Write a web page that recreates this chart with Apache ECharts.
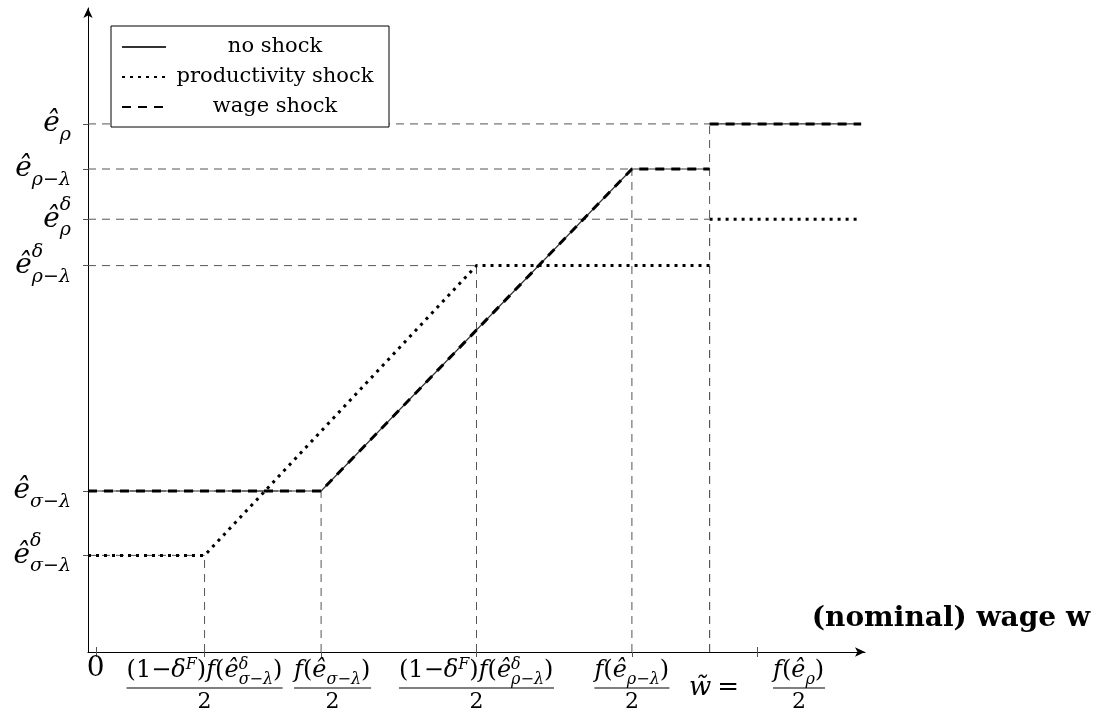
<!DOCTYPE html>
<html>
<head>
<meta charset="utf-8">
<title>Employment under shocks</title>
<script src="https://cdn.jsdelivr.net/npm/echarts@6/dist/echarts.min.js"></script>
<style>
  html, body { margin: 0; padding: 0; background: #fff; }
  #chart { width: 1100px; height: 715px; }
</style>
</head>
<body>
<div id="chart"></div>
<script>
// ---- values (arbitrary units, axes run 0..10) ----
const yLevels   = [1.5, 2.5, 6.0, 6.72, 7.5, 8.2];
const yLabelSup = ['δ', '', 'δ', 'δ', '', ''];
const yLabelSub = ['σ−λ', 'σ−λ', 'ρ−λ', 'ρ', 'ρ−λ', 'ρ'];

const xTickValues = [0.1, 1.5, 3, 5, 7, 8.61];
// label pieces as [style, text] runs
const xLabelLead = [
  [['big0', '0']], null, null, null, null,
  [['bigi', 'w\u0303'], ['gap1', ' '], ['big', '='], ['gapw', ' ']]
];
const xLabelNum = [
  null,
  [['n', '(1−'], ['ni', 'δ'], ['nsup', 'F'], ['n', ')'], ['ni', 'f'], ['n', '('], ['ni', 'ê'], ['nsupS', 'δ'], ['nsub', 'σ−λ'], ['n', ')']],
  [['ni', 'f'], ['n', '('], ['ni', 'ê'], ['nsub', 'σ−λ'], ['n', ')']],
  [['n', '(1−'], ['ni', 'δ'], ['nsup', 'F'], ['n', ')'], ['ni', 'f'], ['n', '('], ['ni', 'ê'], ['nsupS', 'δ'], ['nsub', 'ρ−λ'], ['n', ')']],
  [['ni', 'f'], ['n', '('], ['ni', 'ê'], ['nsub', 'ρ−λ'], ['n', ')']],
  [['ni', 'f'], ['n', '('], ['ni', 'ê'], ['nsub', 'ρ'], ['n', ')']]
];
const xLabelDen = ['', '2', '2', '2', '2', '2'];

const noShock           = [[0, 2.5], [3, 2.5], [7, 7.5], [8, 7.5], [8, '-'], [8, 8.2], [9.95, 8.2]];
const productivityShock = [[0, 1.5], [1.5, 1.5], [5, 6.0], [8, 6.0], [8, '-'], [8, 6.72], [9.95, 6.72]];
const wageShock         = [[0, 2.5], [3, 2.5], [7, 7.5], [8, 7.5], [8, '-'], [8, 8.2], [9.95, 8.2]];

// corners that get thin dashed lines to both axes
const guideCorners = [[1.5, 1.5], [3, 2.5], [5, 6.0], [7, 7.5], [8, 8.2], [8, 6.72]];

// ---- styling ----
const FONT = '"DejaVu Serif", serif';
const INK = '#000';
const GUIDE = '#555';

function st(size, italic, extra) {
  return Object.assign({
    fontFamily: FONT, fontSize: size, fontStyle: italic ? 'italic' : 'normal',
    color: INK, align: 'left'
  }, extra || {});
}

const rich = {
  ye:    st(28, true, { lineHeight: 46 }),
  ysupS: st(19, true, { verticalAlign: 'top', height: 18, width: 0 }),
  ysub:  st(19, true, { verticalAlign: 'bottom', height: 24 }),
  n:     st(24, false, { lineHeight: 26 }),
  ni:    st(24, true, { lineHeight: 26 }),
  nsup:  st(16, true, { verticalAlign: 'top', height: 14 }),
  nsupS: st(16, true, { verticalAlign: 'top', height: 14, width: 0 }),
  nsub:  st(16, true, { verticalAlign: 'bottom', height: 8 }),
  big0:  st(28, false, { lineHeight: 22 }),
  big:   st(26, false, { lineHeight: 8 }),
  bigi:  st(26, true, { lineHeight: 8 }),
  gap1:  { width: 6, fontSize: 1, lineHeight: 1, align: 'left' },
  gapw:  { width: 34, fontSize: 1, lineHeight: 1, align: 'left' }
};

const measureCtx = document.createElement('canvas').getContext('2d');
function textWidth(text, s) {
  if (s.width != null) return s.width;
  measureCtx.font = [s.fontStyle, 'normal', s.fontSize + 'px', s.fontFamily].join(' ');
  return measureCtx.measureText(text).width;
}
const runsText = runs => runs.map(([s, t]) => `{${s}|${t}}`).join('');
const runsWidth = runs => runs.reduce((w, [s, t]) => w + textWidth(t, rich[s]), 0);

// small rightward nudge of one label, as in the original
const NUDGE = { 2: 23 };

const xLabelStrings = xTickValues.map((v, i) => {
  const lead = xLabelLead[i], num = xLabelNum[i];
  if (!num) return runsText(lead);
  const W = Math.ceil(runsWidth(num));
  const P = (lead ? runsWidth(lead) : 0) + (NUDGE[i] || 0);
  rich['bar' + i] = { width: W, height: 1, backgroundColor: INK, lineHeight: 8, fontSize: 1, align: 'left' };
  rich['den' + i] = st(22, false, { lineHeight: 20, width: W, align: 'center' });
  rich['sp' + i] = { width: P, fontSize: 1, lineHeight: 1, align: 'left' };
  const sp = P ? `{sp${i}| }` : '';
  const line1 = sp + runsText(num);
  const line2 = (lead ? runsText(lead) : sp) + `{bar${i}| }`;
  const line3 = sp + `{den${i}|${xLabelDen[i]}}`;
  return [line1, line2, line3].join('\n');
});

const yLabelStrings = yLevels.map((v, i) => {
  let s = '{ye|ê}';
  if (yLabelSup[i]) s += `{ysupS|${yLabelSup[i]}}`;
  s += `{ysub|${yLabelSub[i]}}`;
  return s;
});

function nearest(arr, v) {
  let best = 0;
  arr.forEach((a, i) => { if (Math.abs(a - v) < Math.abs(arr[best] - v)) best = i; });
  return best;
}

const guideData = [];
guideCorners.forEach(([x, y]) => {
  guideData.push([0, y], [x, y], [x, '-'], [x, 0], [x, y], [x, '-']);
});

const chart = echarts.init(document.getElementById('chart'), null, { renderer: 'canvas' });

chart.setOption({
  animation: false,
  backgroundColor: '#fff',
  grid: { left: 88, right: 235, top: 8, bottom: 63, outerBoundsMode: 'none' },
  legend: {
    data: ['no shock', 'productivity shock', 'wage shock'],
    orient: 'vertical',
    left: 111,
    top: 26,
    padding: [6, 10, 5, 10],
    itemWidth: 44,
    itemHeight: 14,
    itemGap: 0,
    borderColor: INK,
    borderWidth: 1,
    borderRadius: 0,
    backgroundColor: '#fff',
    selectedMode: false,
    itemStyle: { color: 'rgba(0,0,0,0)', borderWidth: 0, opacity: 0 },
    formatter: name => `{c|${name}}`,
    textStyle: {
      fontFamily: FONT, fontSize: 21, color: INK, lineHeight: 30,
      rich: { c: { width: 208, align: 'center', fontFamily: FONT, fontSize: 21, color: INK } }
    }
  },
  xAxis: [
    {
      type: 'value', min: 0, max: 10,
      name: '(nominal) wage w',
      nameLocation: 'end',
      nameGap: 225,
      nameMoveOverlap: false,
      nameTextStyle: {
        fontFamily: FONT, fontWeight: 'bold', fontSize: 28, color: INK,
        align: 'right', verticalAlign: 'bottom', lineHeight: 30, padding: [0, 0, 18, 0]
      },
      axisLine: { show: true, onZero: false, symbol: ['none', 'arrow'], symbolSize: [7, 10], lineStyle: { color: INK, width: 1 } },
      axisTick: { show: true, length: 5, customValues: xTickValues, lineStyle: { color: GUIDE } },
      axisLabel: {
        customValues: xTickValues, margin: 6, hideOverlap: false,
        formatter: v => xLabelStrings[nearest(xTickValues, v)],
        rich
      },
      splitLine: { show: false }
    },
    {
      type: 'value', min: 0, max: 10, position: 'bottom',
      axisLine: { show: false },
      axisTick: { show: true, inside: true, length: 5, customValues: [xTickValues[0], xTickValues[5]], lineStyle: { color: GUIDE } },
      axisLabel: { show: false },
      splitLine: { show: false }
    }
  ],
  yAxis: {
    type: 'value', min: 0, max: 10,
    axisLine: { show: true, onZero: false, symbol: ['none', 'arrow'], symbolSize: [7, 10], lineStyle: { color: INK, width: 1 } },
    axisTick: { show: true, length: 5, customValues: yLevels, lineStyle: { color: GUIDE } },
    axisLabel: {
      customValues: yLevels, margin: 17,
      formatter: v => yLabelStrings[nearest(yLevels, v)],
      rich
    },
    splitLine: { show: false }
  },
  series: [
    {
      name: 'guides', type: 'line', data: guideData, symbol: 'none', silent: true, z: 1,
      lineStyle: { color: GUIDE, width: 1, type: [8, 6] }
    },
    {
      name: 'no shock', type: 'line', data: noShock, symbol: 'none', z: 2,
      lineStyle: { color: '#333', width: 1.2, type: 'solid' }
    },
    {
      name: 'productivity shock', type: 'line', data: productivityShock, symbol: 'none', z: 3,
      lineStyle: { color: INK, width: 3, type: [3, 5] }
    },
    {
      name: 'wage shock', type: 'line', data: wageShock, symbol: 'none', z: 4,
      lineStyle: { color: INK, width: 3, type: [9, 7] }
    }
  ]
});
</script>
</body>
</html>
